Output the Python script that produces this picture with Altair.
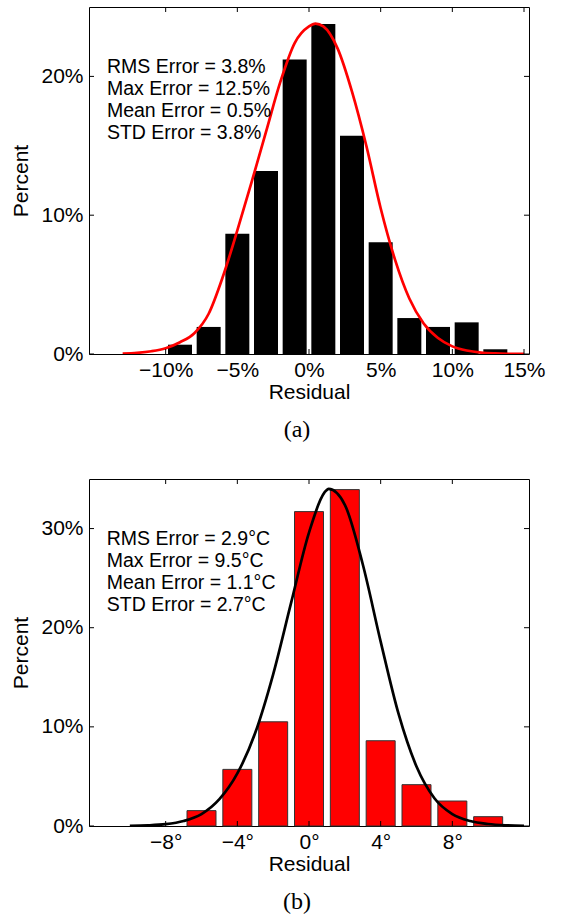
import altair as alt
import pandas as pd

FONT = "Liberation Sans"

# ---------------- Panel (a) data ----------------
a_centers = [-9, -7, -5, -3, -1, 1, 3, 5, 7, 9, 11, 13]
a_percent = [0.67, 1.95, 8.67, 13.18, 21.21, 23.78, 15.73, 8.05, 2.59, 1.95, 2.28, 0.34]
a_curve_x = [-13, -12, -11, -10, -9, -8, -7, -6, -5, -4, -3, -2, -1, 0, 0.45,
             1, 2, 3, 4, 5, 6, 7, 8, 9, 10, 11, 12, 13, 14, 15]
a_curve_y = [0.02, 0.08, 0.2, 0.42, 0.85, 1.5, 2.9, 5.6, 8.9, 12.4, 16.0, 19.6, 22.4, 23.6, 23.8,
             23.6, 22.0, 18.9, 15.0, 10.5, 6.8, 4.0, 2.2, 1.15, 0.55, 0.25, 0.1, 0.04, 0.015, 0.005]
a_xticks = [-10, -5, 0, 5, 10, 15]
a_yticks = [0, 10, 20]
a_stats = ["RMS Error = 3.8%", "Max Error = 12.5%", "Mean Error = 0.5%", "STD Error = 3.8%"]

# ---------------- Panel (b) data ----------------
b_centers = [-6, -4, -2, 0, 2, 4, 6, 8, 10]
b_percent = [1.55, 5.71, 10.51, 31.71, 33.93, 8.60, 4.17, 2.52, 0.94]
b_curve_x = [-10, -9, -8, -7, -6, -5, -4, -3, -2, -1, 0, 1, 1.1,
             2, 3, 4, 5, 6, 7, 8, 9, 10, 11, 12]
b_curve_y = [0.02, 0.06, 0.18, 0.5, 1.2, 2.7, 5.3, 9.4, 15.3, 22.5, 29.6, 33.9, 34.0,
             32.4, 26.4, 18.6, 11.3, 6.0, 2.8, 1.2, 0.5, 0.2, 0.07, 0.02]
b_xticks = [-8, -4, 0, 4, 8]
b_yticks = [0, 10, 20, 30]
b_stats = ["RMS Error = 2.9°C", "Max Error = 9.5°C", "Mean Error = 1.1°C", "STD Error = 2.7°C"]

W, H = 440, 347
TICK = 5


def panel(centers, pct, cx, cy, xdom, ydom, xticks, yticks, xsuffix, stats, stat_x, stat_y,
          bar_color, bar_stroke, bar_size, curve_color, caption):
    xaxis = alt.Axis(values=xticks, labelExpr=f"format(datum.value, 'd') + '{xsuffix}'",
                     ticks=False, domain=False, grid=False, title="Residual",
                     labelFont=FONT, labelFontSize=21, labelColor="black", labelPadding=5,
                     titleFont=FONT, titleFontSize=21, titleFontWeight="normal",
                     titleColor="black", titlePadding=1, labelFlush=False, labelOverlap=False)
    yaxis = alt.Axis(values=yticks, labelExpr="format(datum.value, 'd') + '%'",
                     ticks=False, domain=False, grid=False, title="Percent",
                     labelFont=FONT, labelFontSize=21, labelColor="black", labelPadding=6,
                     titleFont=FONT, titleFontSize=21, titleFontWeight="normal",
                     titleColor="black", titlePadding=9, labelFlush=False, labelOverlap=False)
    xs = alt.Scale(domain=xdom, nice=False, zero=False)
    ys = alt.Scale(domain=ydom, nice=False, zero=True)

    def X(f="x"):
        return alt.X(f"{f}:Q", scale=xs, axis=xaxis)

    def Y(f="y"):
        return alt.Y(f"{f}:Q", scale=ys, axis=yaxis)

    bars_df = pd.DataFrame({"x": centers, "y": pct})
    bar_kw = dict(size=bar_size, color=bar_color)
    if bar_stroke:
        bar_kw.update(stroke=bar_stroke, strokeWidth=1)
    bars = alt.Chart(bars_df).mark_bar(**bar_kw).encode(x=X(), y=Y())

    curve_df = pd.DataFrame({"x": cx, "y": cy})
    curve = alt.Chart(curve_df).mark_line(color=curve_color, strokeWidth=2.7,
                                          interpolate="monotone", clip=True).encode(x=X(), y=Y())

    text_df = pd.DataFrame({"x": [stat_x] * len(stats), "y": stat_y, "label": stats})
    text = alt.Chart(text_df).mark_text(align="left", baseline="alphabetic", font=FONT,
                                        fontSize=19.5, color="black").encode(
        x=X(), y=Y(), text="label:N")

    xt_df = pd.DataFrame({"x": xticks})
    yt_df = pd.DataFrame({"y": yticks})
    xt_top = alt.Chart(xt_df).mark_rule(color="black", strokeWidth=1).encode(
        x=X(), y=alt.value(0), y2=alt.value(TICK))
    xt_bot = alt.Chart(xt_df).mark_rule(color="black", strokeWidth=1).encode(
        x=X(), y=alt.value(H), y2=alt.value(H - TICK))
    yt_left = alt.Chart(yt_df).mark_rule(color="black", strokeWidth=1).encode(
        y=Y(), x=alt.value(0), x2=alt.value(TICK))
    yt_right = alt.Chart(yt_df).mark_rule(color="black", strokeWidth=1).encode(
        y=Y(), x=alt.value(W), x2=alt.value(W - TICK))

    return alt.layer(bars, curve, text, xt_top, xt_bot, yt_left, yt_right).properties(
        width=W, height=H,
        title=alt.TitleParams(caption, orient="bottom", anchor="middle", frame="group",
                              font="Liberation Serif", fontSize=24, fontWeight="normal",
                              color="black", dx=-12, offset=16))


pa = panel(a_centers, a_percent, a_curve_x, a_curve_y, [-15, 15], [0, 25], a_xticks, a_yticks,
           "%", a_stats, -14.1, [20.24, 18.68, 17.07, 15.49],
           "black", None, 24, "#ff0000", "(a)")
pb = panel(b_centers, b_percent, b_curve_x, b_curve_y, [-12, 12], [0, 35], b_xticks, b_yticks,
           "°", b_stats, -11.29, [28.34, 26.15, 23.9, 21.69],
           "#ff0000", "#333333", 29, "black", "(b)")

chart = alt.vconcat(pa, pb, spacing=35).properties(
    padding={"left": 10, "top": 6, "right": 10, "bottom": 0},
    background="white",
).configure_view(stroke="black", strokeWidth=1).configure_concat(spacing=35)

chart.save("out.html", embed_options={"renderer": "svg", "actions": False})
